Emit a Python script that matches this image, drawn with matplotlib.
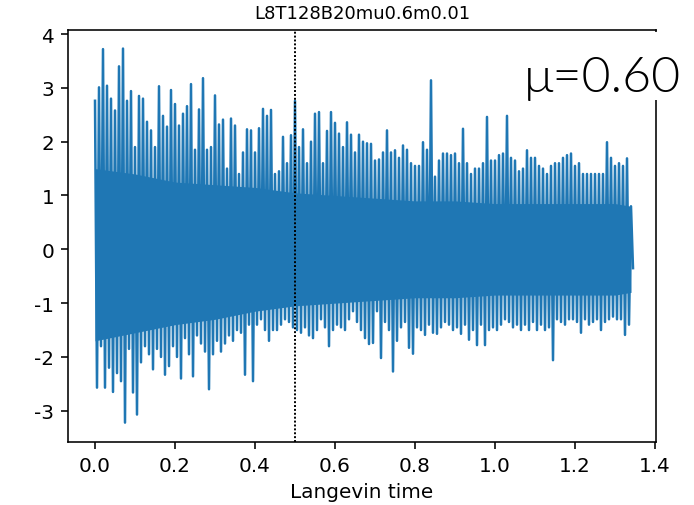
import numpy as np
import matplotlib
matplotlib.use("Agg")
import matplotlib.pyplot as plt
from matplotlib.patches import Rectangle

plt.rcParams["axes.unicode_minus"] = False

#%% datos
titulo = "L8T128B20mu0.6m0.01"
etiqueta_mu = "μ=0.60"
t_corte = 0.5
dt = 0.01

# maximos locales de la serie (uno cada dt)
picos_sup = [
    2.76, 3.01, 3.72, 3.04, 2.80, 2.58, 3.40, 3.73, 2.76, 2.94,
    1.90, 2.85, 2.80, 2.37, 2.21, 1.90, 3.03, 2.48, 2.28, 2.96,
    2.70, 2.30, 2.52, 2.66, 3.07, 1.85, 2.60, 3.18, 1.85, 1.90,
    2.86, 2.32, 2.41, 1.50, 2.43, 2.30, 1.40, 1.80, 2.23, 2.21,
    1.80, 2.25, 2.61, 2.48, 2.59, 1.40, 1.45, 2.09, 1.60, 2.12,
    2.76, 1.90, 2.23, 1.60, 2.00, 2.52, 2.55, 1.60, 2.20, 2.55,
    2.35, 2.15, 1.90, 2.36, 2.13, 1.80, 2.13, 2.00, 1.97, 1.96,
    1.65, 1.67, 1.80, 2.21, 1.80, 1.84, 1.70, 1.93, 1.85, 1.60,
    1.55, 1.55, 1.99, 1.85, 3.14, 1.35, 1.65, 1.78, 1.78, 1.75,
    1.78, 1.60, 2.24, 1.60, 1.40, 1.50, 1.50, 1.60, 2.46, 1.65,
    1.65, 1.75, 1.78, 2.48, 1.70, 1.65, 1.45, 1.50, 1.84, 1.70,
    1.70, 1.55, 1.50, 1.40, 1.55, 1.60, 1.60, 1.70, 1.75, 1.78,
    1.55, 1.60, 1.40, 1.40, 1.40, 1.40, 1.40, 1.40, 1.99, 1.70,
    1.55, 1.60, 1.55, 1.69, 0.80,
]

# minimos locales de la serie
picos_inf = [
    -2.57, -1.80, -2.57, -2.20, -2.65, -2.30, -2.45, -3.22, -1.85, -2.66,
    -3.07, -2.10, -1.80, -1.95, -2.23, -1.85, -2.00, -2.33, -2.17, -1.80,
    -2.00, -2.40, -1.65, -1.95, -2.36, -1.60, -1.75, -1.90, -2.60, -1.95,
    -1.70, -1.90, -1.75, -1.60, -1.70, -1.50, -1.55, -2.33, -1.40, -2.45,
    -1.40, -1.30, -1.50, -1.70, -1.50, -1.50, -1.40, -1.30, -1.35, -1.45,
    -1.50, -1.55, -1.45, -1.60, -1.65, -1.50, -1.30, -1.45, -1.80, -1.50,
    -1.40, -1.45, -1.50, -1.30, -1.15, -1.35, -1.50, -1.65, -1.76, -1.74,
    -1.15, -2.02, -1.35, -1.50, -2.27, -1.70, -1.45, -1.35, -1.83, -1.94,
    -1.45, -1.50, -1.59, -1.40, -1.55, -1.57, -1.45, -1.35, -1.40, -1.50,
    -1.45, -1.57, -1.40, -1.68, -1.50, -1.78, -1.40, -1.78, -1.50, -1.45,
    -1.50, -1.40, -1.30, -1.35, -1.45, -1.40, -1.50, -1.40, -1.50, -1.35,
    -1.50, -1.40, -1.50, -1.45, -2.06, -1.30, -1.35, -1.40, -1.30, -1.30,
    -1.35, -1.55, -1.30, -1.40, -1.35, -1.30, -1.50, -1.35, -1.30, -1.25,
    -1.30, -1.30, -1.59, -1.40, -0.35,
]

# zona donde la traza es tan densa que se ve solida
t_nucleo = [0.0, 0.1, 0.2, 0.3, 0.4, 0.5, 0.6, 0.7, 0.8, 0.9, 1.0, 1.1, 1.2, 1.3, 1.34]
nucleo_sup = [1.5, 1.4, 1.25, 1.2, 1.15, 1.05, 1.0, 0.95, 0.9, 0.9, 0.85, 0.85, 0.85, 0.85, 0.8]
nucleo_inf = [-1.7, -1.55, -1.4, -1.3, -1.15, -1.05, -1.0, -0.95, -0.9, -0.9, -0.85,
              -0.85, -0.85, -0.85, -0.8]


#%%
def armar_serie(sup, inf, paso):
    n = len(sup)
    t = np.arange(n) * paso
    x = np.empty(2 * n)
    y = np.empty(2 * n)
    x[0::2] = t
    x[1::2] = t + paso / 2
    y[0::2] = sup
    y[1::2] = inf
    return x, y


#%%
def main():
    W, H, dpi = 694, 506, 100
    fig = plt.figure(figsize=(W / dpi, H / dpi), dpi=dpi)
    ax = fig.add_axes([68 / W, (H - 443) / H, 588 / W, 412 / H])

    x, y = armar_serie(picos_sup, picos_inf, dt)
    ax.fill_between(t_nucleo, nucleo_inf, nucleo_sup, color="#1f77b4", lw=0)
    ax.plot(x, y, color="#1f77b4", lw=1.8)
    ax.axvline(t_corte, color="k", lw=1.4, ls=(0, (1, 1)))

    ax.set_xlim(-0.0675, 1.4025)
    ax.set_ylim(-3.58, 4.075)
    ax.set_xticks(np.arange(0, 1.41, 0.2))
    ax.set_yticks(np.arange(-3, 5, 1))
    ax.tick_params(labelsize=14.4, length=5, width=1.15, pad=5)
    for s in ax.spines.values():
        s.set_linewidth(1.15)
    ax.set_xlabel("Langevin time", fontsize=14.4, labelpad=5)
    ax.set_title(titulo, fontsize=13, pad=9)

    # recuadro blanco con la etiqueta de mu
    fig.patches.append(Rectangle((500 / W, (H - 101) / H), 1 - 500 / W, 68.5 / H,
                                 transform=fig.transFigure, facecolor="white",
                                 edgecolor="none", zorder=5))
    fig.text(524 / W, 1 - 92 / H, etiqueta_mu, fontsize=36, family=["Lato", "DejaVu Sans"],
             fontweight=300, va="baseline", ha="left", zorder=6)

    fig.savefig("out.png", dpi=dpi)


main()
